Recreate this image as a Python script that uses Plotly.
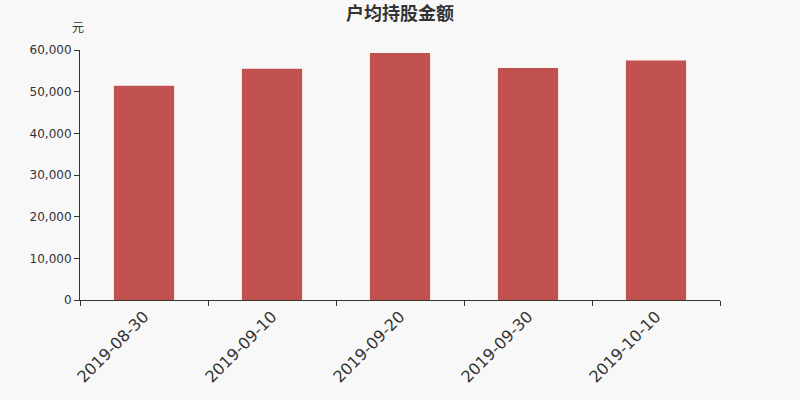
import plotly.graph_objects as go

# 户均持股金额 (元)
dates = ["2019-08-30", "2019-09-10", "2019-09-20", "2019-09-30", "2019-10-10"]
amounts = [51400, 55500, 59300, 55700, 57500]

y_ticks = [0, 10000, 20000, 30000, 40000, 50000, 60000]

fig = go.Figure()

fig.add_trace(go.Bar(
    x=dates,
    y=amounts,
    marker=dict(color="#c1514e", line=dict(width=0)),
    width=0.47,
    hoverinfo="x+y"
))

fig.update_layout(
    width=800,
    height=400,
    paper_bgcolor="#f8f8f8",
    plot_bgcolor="#f8f8f8",
    margin=dict(l=80, r=80, t=50, b=100),
    font=dict(family="Noto Sans CJK SC, DejaVu Sans, sans-serif", color="#333333"),
    title=dict(
        text="<b>户均持股金额</b>",
        x=0.5,
        xanchor="center",
        y=0.965,
        yanchor="middle",
        font=dict(size=18, color="#333333")
    ),
    showlegend=False,
    xaxis=dict(
        type="category",
        tickangle=-45,
        tickfont=dict(size=16, family="DejaVu Sans, sans-serif"),
        showline=True,
        linecolor="#333333",
        linewidth=1,
        ticks="outside",
        tickson="boundaries",
        ticklen=5,
        tickcolor="#333333",
        showgrid=False,
        zeroline=False
    ),
    yaxis=dict(
        range=[0, 60000],
        tickvals=y_ticks,
        tickformat=",",
        tickfont=dict(size=12, family="DejaVu Sans, sans-serif"),
        showline=True,
        linecolor="#333333",
        linewidth=1,
        ticks="outside",
        ticklen=5,
        tickcolor="#333333",
        showgrid=False,
        zeroline=False
    ),
    annotations=[dict(
        text="元",
        xref="paper", yref="paper",
        x=0, y=1,
        xanchor="right", yanchor="bottom",
        xshift=6, yshift=13,
        showarrow=False,
        font=dict(size=12, color="#333333")
    )]
)

# drop the default page margin so the figure sits at the window's top-left corner
fig.write_html(
    "out.html",
    config={"displayModeBar": False},
    post_script="document.body.style.margin='0';document.body.style.background='#f8f8f8';"
)
